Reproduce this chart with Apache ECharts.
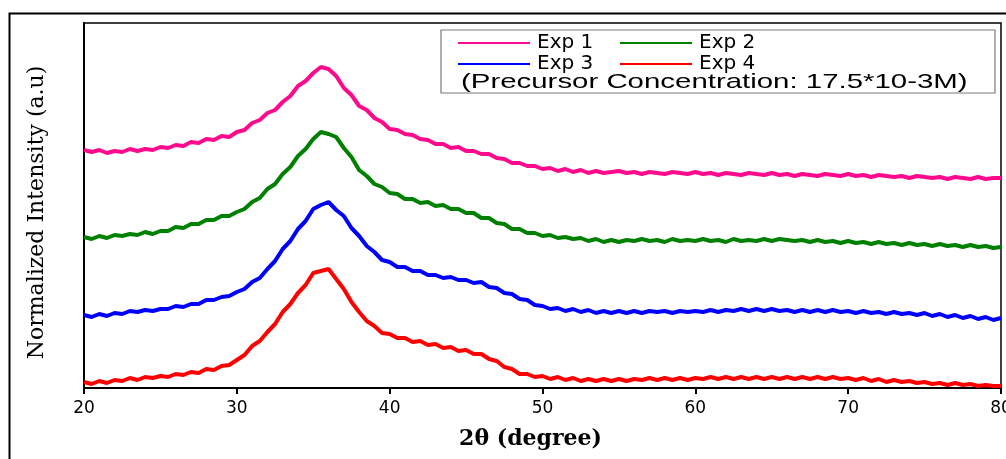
<!DOCTYPE html>
<html>
<head>
<meta charset="utf-8">
<script src="https://cdn.jsdelivr.net/npm/echarts@6/dist/echarts.min.js"></script>
<style>html,body{margin:0;padding:0;background:#fff;}#c{width:1006px;height:459px;}</style>
</head>
<body>
<div id="c"></div>
<script>
// 2θ (degree) sampling positions
var angles = [20,20.5,21,21.5,22,22.5,23,23.5,24,24.5,25,25.5,26,26.5,27,27.5,28,28.5,29,29.5,
30,30.5,31,31.5,32,32.5,33,33.5,34,34.5,35,35.5,36,36.5,37,37.5,38,38.5,39,39.5,
40,40.5,41,41.5,42,42.5,43,43.5,44,44.5,45,45.5,46,46.5,47,47.5,48,48.5,49,49.5,
50,50.5,51,51.5,52,52.5,53,53.5,54,54.5,55,55.5,56,56.5,57,57.5,58,58.5,59,59.5,
60,60.5,61,61.5,62,62.5,63,63.5,64,64.5,65,65.5,66,66.5,67,67.5,68,68.5,69,69.5,
70,70.5,71,71.5,72,72.5,73,73.5,74,74.5,75,75.5,76,76.5,77,77.5,78,78.5,79,79.5,80];

// Normalized intensity (a.u, stacked offsets as in the figure)
var exp1 = [238,236,238,235,237,236,239,237,239,238,241,240,243,242,246,245,249,248,252,251,
256,258,265,268,275,278,286,292,302,307,315,321,319,312,300,293,282,278,270,266,
259,258,254,253,249,248,244,244,240,241,237,237,234,234,230,229,225,225,222,222,
219,220,217,219,216,218,215,217,215,216,217,215,216,214,216,215,214,216,215,214,
216,214,215,213,215,214,213,215,214,213,215,213,214,212,214,213,212,214,213,212,
214,212,213,211,213,212,211,212,210,212,211,210,211,209,211,210,209,211,209,210,210];

var exp2 = [151,149,152,150,153,152,154,153,156,154,157,157,161,160,164,164,168,168,172,172,
176,179,186,190,199,204,214,221,232,239,249,256,254,251,240,231,218,212,204,201,
195,194,189,189,185,186,182,183,179,179,175,175,170,170,165,164,159,159,155,155,
152,153,150,151,149,150,147,149,146,148,146,148,147,149,147,148,146,149,147,148,
147,149,147,148,146,149,147,148,147,149,147,149,148,147,148,146,148,146,147,145,
147,145,146,144,146,144,145,143,145,143,144,142,144,142,143,141,143,141,142,140,141];

var exp3 = [73,71,74,72,75,74,77,76,78,77,79,79,82,81,84,84,88,88,91,92,
96,99,106,110,119,127,139,147,159,167,179,183,186,178,172,160,152,142,136,128,
126,121,121,117,117,113,113,110,111,108,108,105,106,101,100,95,94,89,88,83,
82,79,80,77,79,76,78,75,77,75,77,75,77,75,77,76,77,75,77,76,
77,76,78,76,78,77,79,77,79,77,79,77,78,76,78,76,78,76,78,76,
77,75,77,75,76,74,76,74,75,73,75,72,74,71,73,70,72,69,71,68,70];

var exp4 = [6,4,7,5,8,7,10,8,11,10,12,11,14,13,16,15,19,18,22,23,
28,33,42,47,56,64,76,84,95,103,115,117,119,109,99,86,76,67,62,55,
54,50,50,46,47,43,44,40,41,37,38,34,34,29,27,21,19,14,14,11,
12,9,11,8,10,7,9,7,9,7,9,7,9,8,10,8,10,8,10,8,
10,9,11,9,11,9,11,9,11,9,11,9,11,9,11,9,11,9,11,9,
10,8,10,7,9,6,8,6,7,5,6,4,5,3,5,3,4,2,3,2,2];

var seriesNames = ['Exp 1','Exp 2','Exp 3','Exp 4'];
var seriesColors = ['#ff0a8c','#008000','#0000ff','#ff0000'];
var xTicks = [20,30,40,50,60,70,80];
var noteText = '(Precursor Concentration: 17.5*10-3M)';

function pairs(ys){ var out=[]; for(var i=0;i<angles.length;i++){ out.push([angles[i], ys[i]]); } return out; }
var allY = [exp1, exp2, exp3, exp4];

var chart = echarts.init(document.getElementById('c'), null, {renderer:'canvas'});
var legendPos = [[458,33],[620,33],[458,54],[620,54]];
var legends = seriesNames.map(function(n,i){
  return {
    data:[n], left:legendPos[i][0], top:legendPos[i][1], orient:'horizontal',
    icon:'rect', itemWidth:72, itemHeight:2, itemGap:0, padding:0,
    selectedMode:false,
    textStyle:{fontFamily:'DejaVu Sans', fontSize:20, color:'#000', padding:[0,0,0,2]}
  };
});

var option = {
  animation:false,
  backgroundColor:'#fff',
  grid:{left:84, right:5, top:23, bottom:71, show:true, borderColor:'#000', borderWidth:1.5,
    backgroundColor:'transparent', containLabel:false, outerBoundsMode:'none'},
  legend: legends,
  xAxis:{
    type:'value', min:20, max:80, interval:10,
    axisLine:{show:true, onZero:false, lineStyle:{color:'#000', width:2}},
    axisTick:{show:true, inside:false, length:6, lineStyle:{color:'#000', width:2}},
    axisLabel:{color:'#000', fontFamily:'DejaVu Sans', fontSize:17, margin:12,
      customValues: xTicks},
    splitLine:{show:false},
    name:'2θ (degree)', nameLocation:'middle', nameGap:40,
    nameTextStyle:{fontFamily:'DejaVu Serif', fontWeight:'bold', fontSize:22, color:'#000', padding:[0,24,0,0]}
  },
  yAxis:{
    type:'value', min:0, max:365,
    axisLine:{show:true, onZero:false, lineStyle:{color:'#000', width:2}},
    axisTick:{show:false}, axisLabel:{show:false}, splitLine:{show:false},
    name:'Normalized Intensity (a.u)', nameLocation:'middle', nameGap:36, nameRotate:90,
    nameTextStyle:{fontFamily:'DejaVu Serif', fontSize:22, color:'#000', padding:[0,0,0,-14]}
  },
  series: seriesNames.map(function(n,i){
    return {name:n, type:'line', data:pairs(allY[i]), showSymbol:false, symbol:'none',
      lineStyle:{color:seriesColors[i], width:4}, itemStyle:{color:seriesColors[i]},
      clip:false, z:2};
  }),
  graphic:[
    {type:'rect', left:7, top:11, shape:{x:0,y:0,width:1010,height:460}, style:{fill:'none', stroke:'#000', lineWidth:2}, silent:true, z:0},
    {type:'rect', shape:{x:441,y:30,width:554,height:63}, style:{fill:'#fff', stroke:'#7a7a7a', lineWidth:1.2}, z:3},
    {type:'text', x:461, y:82, scaleX:1.4, scaleY:1, originX:0, originY:0, z:4,
      style:{text:noteText, font:'21px "Liberation Sans"', fill:'#000', verticalAlign:'middle', align:'left'}}
  ]
};
chart.setOption(option);
</script>
</body>
</html>
